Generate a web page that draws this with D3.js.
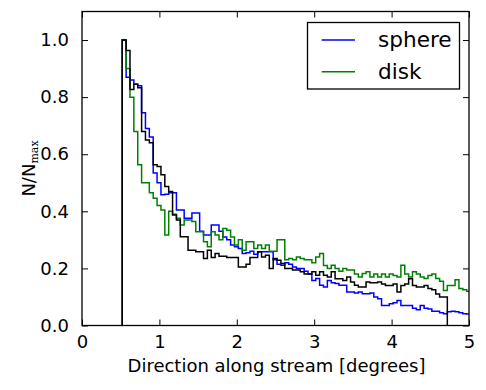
<!DOCTYPE html>
<html>
<head>
<meta charset="utf-8">
<script src="https://cdn.jsdelivr.net/npm/d3@7"></script>
<style>
  html, body { margin: 0; padding: 0; background: #fff; }
  svg { display: block; }
  text { font-family: "DejaVu Sans", sans-serif; fill: #000; }
</style>
</head>
<body>
<svg id="chart" width="486" height="390"></svg>
<script>
// ---- Data (histograms normalised to N/Nmax) ----
const binStart = 0.52;
const binWidth = 0.05;

const sphereValues = [
  1.0, 0.87, 0.86, 0.845, 0.84, 0.745, 0.69, 0.66, 0.534, 0.5,
  0.458, 0.46, 0.465, 0.465, 0.405, 0.405, 0.376, 0.376, 0.394, 0.394,
  0.33, 0.317, 0.317, 0.352, 0.352, 0.33, 0.31, 0.3, 0.282, 0.276,
  0.27, 0.252, 0.255, 0.26, 0.25, 0.258, 0.258, 0.258, 0.258, 0.23,
  0.215, 0.211, 0.22, 0.215, 0.205, 0.2, 0.2, 0.19, 0.18, 0.158,
  0.165, 0.141, 0.135, 0.158, 0.15, 0.147, 0.141, 0.141, 0.117, 0.117,
  0.114, 0.117, 0.111, 0.111, 0.114, 0.1, 0.094, 0.07, 0.07, 0.076,
  0.08, 0.088, 0.07, 0.07, 0.07, 0.06, 0.055, 0.07, 0.06, 0.058,
  0.05, 0.05, 0.045, 0.041, 0.048, 0.05, 0.048, 0.045, 0.041, 0.04
];

const diskValues = [
  1.0, 0.9, 0.8, 0.68, 0.563, 0.5, 0.5, 0.465, 0.446, 0.42,
  0.405, 0.317, 0.4, 0.39, 0.376, 0.352, 0.37, 0.37, 0.364, 0.328,
  0.328, 0.293, 0.276, 0.328, 0.317, 0.3, 0.34, 0.334, 0.31, 0.282,
  0.3, 0.264, 0.293, 0.293, 0.27, 0.282, 0.27, 0.282, 0.26, 0.26,
  0.3, 0.3, 0.23, 0.235, 0.23, 0.24, 0.235, 0.23, 0.23, 0.22,
  0.24, 0.252, 0.21, 0.2, 0.211, 0.2, 0.19, 0.2, 0.194, 0.194,
  0.18, 0.17, 0.182, 0.188, 0.17, 0.18, 0.17, 0.18, 0.17, 0.18,
  0.175, 0.17, 0.211, 0.18, 0.17, 0.188, 0.18, 0.17, 0.165, 0.175,
  0.18, 0.165, 0.155, 0.123, 0.14, 0.14, 0.16, 0.13, 0.125, 0.12
];

const observedValues = [
  1.0, 0.963, 0.827, 0.845, 0.833, 0.68, 0.65, 0.64, 0.563, 0.557,
  0.528, 0.487, 0.469, 0.387, 0.37, 0.311, 0.311, 0.264, 0.264, 0.258,
  0.258, 0.235, 0.264, 0.238, 0.252, 0.243, 0.243, 0.238, 0.238, 0.238,
  0.205, 0.205, 0.215, 0.238, 0.238, 0.258, 0.24, 0.246, 0.2, 0.235,
  0.229, 0.217, 0.2, 0.2, 0.194, 0.194, 0.188, 0.18, 0.18, 0.188,
  0.176, 0.188, 0.176, 0.17, 0.188, 0.164, 0.164, 0.158, 0.17, 0.152,
  0.141, 0.135, 0.135, 0.152, 0.15, 0.15, 0.152, 0.145, 0.14, 0.14,
  0.145, 0.117, 0.14, 0.145, 0.164, 0.14, 0.135, 0.135, 0.14, 0.13,
  0.125, 0.11, 0.1, 0.1
];

const xTicks = [0, 1, 2, 3, 4, 5];
const yTicks = [0.0, 0.2, 0.4, 0.6, 0.8, 1.0];
const legendLabels = ["sphere", "disk"];
const seriesColors = ["#0000ff", "#008000", "#000000"];

// ---- Layout ----
const svg = d3.select("#chart");
const pLeft = 82, pRight = 469, pTop = 11.5, pBottom = 325.5;

const x = d3.scaleLinear().domain([0, 5]).range([pLeft, pRight]);
const y = d3.scaleLinear().domain([0, 1.1]).range([pBottom, pTop]);

svg.append("defs").append("clipPath").attr("id", "plotClip")
  .append("rect").attr("x", pLeft).attr("y", pTop)
  .attr("width", pRight - pLeft).attr("height", pBottom - pTop);

function stepPoints(values) {
  const pts = [[binStart, 0]];
  values.forEach((v, i) => {
    const x0 = binStart + i * binWidth;
    pts.push([x0, v]);
    pts.push([x0 + binWidth, v]);
  });
  pts.push([binStart + values.length * binWidth, 0]);
  return pts;
}

const line = d3.line().x(d => x(d[0])).y(d => y(d[1]));

const plot = svg.append("g").attr("clip-path", "url(#plotClip)");
[sphereValues, diskValues, observedValues].forEach((vals, k) => {
  plot.append("path")
    .attr("d", line(stepPoints(vals)))
    .attr("fill", "none")
    .attr("stroke", seriesColors[k])
    .attr("stroke-width", 1.5)
    .attr("stroke-linejoin", "miter");
});

// ---- Axes (matplotlib classic: ticks inward on all sides) ----
const tickLen = 6;
const axisFont = 18;

const xAxisB = d3.axisBottom(x).tickValues(xTicks).tickFormat(d3.format("d"))
  .tickSizeInner(-tickLen).tickSizeOuter(0).tickPadding(tickLen + 4);
const gx = svg.append("g").attr("transform", `translate(0,${pBottom})`).call(xAxisB);
gx.select(".domain").remove();
gx.selectAll("line").attr("stroke", "#000").attr("stroke-width", 1);
gx.selectAll("text").attr("font-size", axisFont).attr("font-family", "DejaVu Sans");

const xAxisT = d3.axisTop(x).tickValues(xTicks).tickFormat("")
  .tickSizeInner(-tickLen).tickSizeOuter(0);
const gxt = svg.append("g").attr("transform", `translate(0,${pTop})`).call(xAxisT);
gxt.select(".domain").remove();
gxt.selectAll("line").attr("stroke", "#000").attr("stroke-width", 1);

const yAxisL = d3.axisLeft(y).tickValues(yTicks).tickFormat(d3.format(".1f"))
  .tickSizeInner(-tickLen).tickSizeOuter(0).tickPadding(tickLen + 7);
const gy = svg.append("g").attr("transform", `translate(${pLeft},0)`).call(yAxisL);
gy.select(".domain").remove();
gy.selectAll("line").attr("stroke", "#000").attr("stroke-width", 1);
gy.selectAll("text").attr("font-size", axisFont).attr("font-family", "DejaVu Sans");

const yAxisR = d3.axisRight(y).tickValues(yTicks).tickFormat("")
  .tickSizeInner(-tickLen).tickSizeOuter(0);
const gyr = svg.append("g").attr("transform", `translate(${pRight},0)`).call(yAxisR);
gyr.select(".domain").remove();
gyr.selectAll("line").attr("stroke", "#000").attr("stroke-width", 1);

// frame
svg.append("rect")
  .attr("x", pLeft).attr("y", pTop)
  .attr("width", pRight - pLeft).attr("height", pBottom - pTop)
  .attr("fill", "none").attr("stroke", "#000").attr("stroke-width", 1.3);

// ---- Axis labels ----
svg.append("text")
  .attr("x", (pLeft + pRight) / 2 + 1).attr("y", 372)
  .attr("text-anchor", "middle").attr("font-size", axisFont)
  .text("Direction along stream [degrees]");

const yl = svg.append("text")
  .attr("transform", `translate(35,${(pTop + pBottom) / 2}) rotate(-90)`)
  .attr("text-anchor", "middle").attr("font-size", axisFont);
yl.append("tspan").text("N/N");
yl.append("tspan").attr("dy", 3).attr("font-size", 11)
  .attr("font-family", "DejaVu Serif").text("max");

// ---- Legend ----
const lg = svg.append("g");
lg.append("rect").attr("x", 307.5).attr("y", 22.5).attr("width", 152).attr("height", 66.5)
  .attr("fill", "#fff").attr("stroke", "#000").attr("stroke-width", 1.3);
const legendY = [40, 71.7];
legendLabels.forEach((lab, i) => {
  lg.append("line").attr("x1", 321.7).attr("x2", 355)
    .attr("y1", legendY[i]).attr("y2", legendY[i])
    .attr("stroke", seriesColors[i]).attr("stroke-width", 1.5);
  lg.append("text").attr("x", 378).attr("y", legendY[i] + 7)
    .attr("font-size", 21.6).text(lab);
});
</script>
</body>
</html>
